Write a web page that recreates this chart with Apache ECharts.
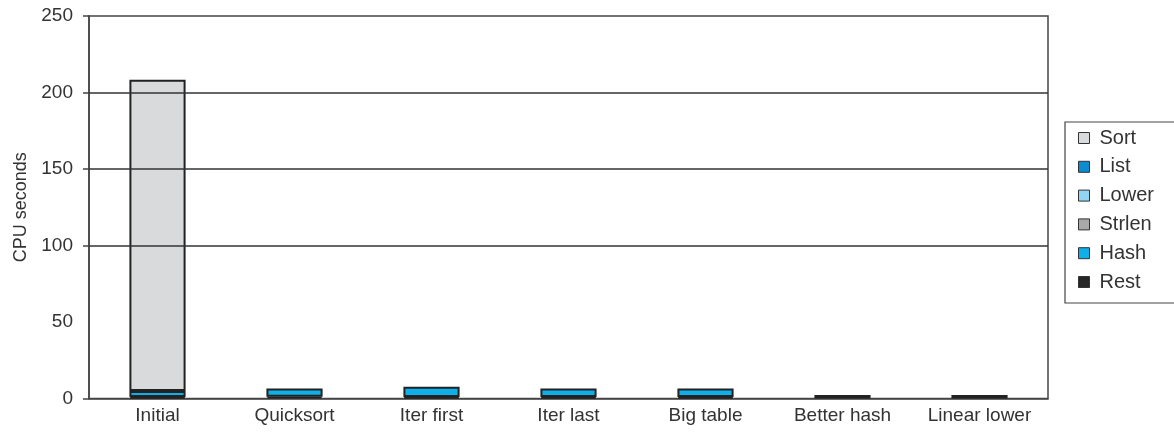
<!DOCTYPE html>
<html>
<head>
<meta charset="utf-8">
<script src="https://cdn.jsdelivr.net/npm/echarts@6/dist/echarts.min.js"></script>
<style>
  html, body { margin: 0; padding: 0; background: #fff; }
  #chart { width: 1174px; height: 433px; }
</style>
</head>
<body>
<div id="chart"></div>
<script>
// CPU time per program version, split by where the time goes
const categories = ['Initial', 'Quicksort', 'Iter first', 'Iter last', 'Big table', 'Better hash', 'Linear lower'];
const sortVals   = [203.5, 0, 0, 0, 0, 0, 0];
const listVals   = [0, 0, 0, 0, 0, 0, 0];
const lowerVals  = [0, 0, 0, 0, 0, 0, 0];
const strlenVals = [0, 0, 0, 0, 0, 0, 0];
const hashVals   = [3.9, 5.4, 6.7, 5.6, 5.6, 0, 0];
const restVals   = [1.0, 1.2, 1.0, 1.0, 1.0, 2.3, 2.3];
const yTicks = [0, 50, 100, 150, 200, 250];
const gridValues = [100, 150, 200];

const font = '"Liberation Sans", Arial, sans-serif';
const ink = '#222';

function seriesOf(name, values, color) {
  return {
    name: name,
    type: 'bar',
    stack: 'cpu',
    barCategoryGap: '59%',
    data: values.map(v => (v > 0 ? v : '-')),
    itemStyle: { color: color, borderColor: ink, borderWidth: 2 },
    emphasis: { disabled: true }
  };
}

// stacked from the bottom up: Rest, Hash, Strlen, Lower, List, Sort
const series = [
  seriesOf('Rest', restVals, '#262626'),
  seriesOf('Hash', hashVals, '#0fb0ea'),
  seriesOf('Strlen', strlenVals, '#a9a9ab'),
  seriesOf('Lower', lowerVals, '#92d5f3'),
  seriesOf('List', listVals, '#0a8bd2'),
  seriesOf('Sort', sortVals, '#d9dadc')
];
series[0].markLine = {
  silent: true,
  symbol: 'none',
  label: { show: false },
  lineStyle: { color: '#333', width: 1.5, type: 'solid' },
  data: gridValues.map(v => ({ yAxis: v }))
};

const chart = echarts.init(document.getElementById('chart'), null, { renderer: 'canvas' });
chart.setOption({
  animation: false,
  backgroundColor: '#fff',
  textStyle: { fontFamily: font },
  grid: {
    left: 89, right: 126, top: 16, bottom: 34.5,
    show: true, borderColor: '#444', borderWidth: 1.5, backgroundColor: 'transparent'
  },
  legend: {
    orient: 'vertical',
    left: 1065, top: 122,
    padding: [6, 60, 11, 13],
    itemGap: 8.8,
    itemWidth: 11, itemHeight: 11,
    icon: 'rect',
    borderColor: '#444', borderWidth: 1.2,
    itemStyle: { borderColor: '#333', borderWidth: 1 },
    textStyle: { fontFamily: font, fontSize: 20, color: '#333', lineHeight: 20, padding: [0, 0, 0, 5] },
    data: ['Sort', 'List', 'Lower', 'Strlen', 'Hash', 'Rest'],
    selectedMode: false
  },
  xAxis: {
    type: 'category',
    data: categories,
    axisTick: { show: false },
    axisLine: { lineStyle: { color: '#444', width: 1.5 } },
    axisLabel: { color: '#333', fontSize: 19, margin: 8, fontFamily: font }
  },
  yAxis: {
    type: 'value',
    min: 0, max: 250, interval: 50,
    name: 'CPU seconds',
    nameLocation: 'middle',
    nameRotate: 90,
    nameGap: 58,
    nameTextStyle: { color: '#333', fontSize: 18, fontFamily: font },
    axisLine: { show: true, lineStyle: { color: '#444', width: 1.5 } },
    axisTick: { show: true, length: 6, customValues: [0, 100, 150, 200, 250], lineStyle: { color: '#444', width: 1.5 } },
    splitLine: { show: false },
    axisLabel: { color: '#333', fontSize: 19, margin: 16, fontFamily: font, customValues: yTicks }
  },
  series: series
});
</script>
</body>
</html>
